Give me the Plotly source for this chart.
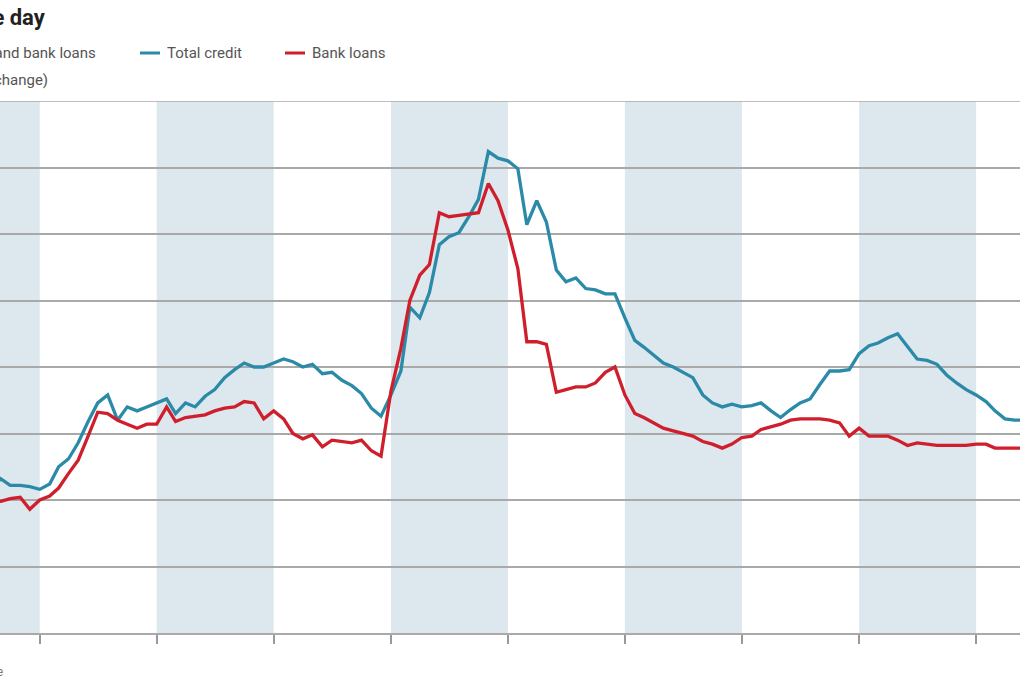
import pandas as pd
import plotly.graph_objects as go

# monthly, Aug 2005 .. Jun 2014 (% change from a year earlier)
months = pd.date_range('2005-08-01', '2014-06-01', freq='MS')

total_credit = [
    10.7, 11.6, 11.1, 11.1, 11.0,
    10.8, 11.2, 12.5, 13.1, 14.3, 15.9, 17.3, 17.9, 16.0, 17.0, 16.7, 17.0,
    17.3, 17.6, 16.5, 17.3, 17.0, 17.8, 18.3, 19.2, 19.8, 20.3, 20.0, 20.0,
    20.3, 20.6, 20.4, 20.0, 20.2, 19.5, 19.6, 19.0, 18.6, 18.0, 16.9, 16.3,
    17.9, 19.7, 24.5, 23.7, 25.6, 29.2, 29.8, 30.1, 31.3, 32.6, 36.2, 35.7,
    35.5, 34.9, 30.7, 32.5, 30.9, 27.3, 26.4, 26.7, 25.9, 25.8, 25.5, 25.5,
    23.7, 22.0, 21.5, 20.9, 20.3, 20.0, 19.6, 19.2, 17.9, 17.3, 17.0, 17.2,
    17.0, 17.1, 17.3, 16.7, 16.2, 16.8, 17.3, 17.6, 18.7, 19.7, 19.7, 19.8,
    21.0, 21.6, 21.8, 22.2, 22.5, 21.5, 20.6, 20.5, 20.2, 19.4, 18.8, 18.3,
    17.9, 17.4, 16.7, 16.1, 16.0, 16.0,
]
bank_loans = [
    9.8, 9.9, 10.1, 10.2, 9.3,
    10.0, 10.3, 10.9, 12.0, 13.0, 14.8, 16.6, 16.5, 16.0, 15.7, 15.4, 15.7,
    15.7, 17.0, 15.9, 16.2, 16.3, 16.4, 16.7, 16.9, 17.0, 17.4, 17.3, 16.1,
    16.7, 16.1, 15.0, 14.6, 14.9, 14.0, 14.5, 14.4, 14.3, 14.5, 13.7, 13.3,
    18.2, 21.4, 25.0, 26.9, 27.7, 31.6, 31.3, 31.4, 31.5, 31.6, 33.8, 32.5,
    30.3, 27.4, 21.9, 21.9, 21.7, 18.1, 18.3, 18.5, 18.5, 18.8, 19.6, 20.0,
    17.9, 16.5, 16.2, 15.8, 15.4, 15.2, 15.0, 14.8, 14.4, 14.2, 13.9, 14.2,
    14.7, 14.8, 15.3, 15.5, 15.7, 16.0, 16.1, 16.1, 16.1, 16.0, 15.8, 14.8,
    15.4, 14.8, 14.8, 14.8, 14.5, 14.1, 14.3, 14.2, 14.1, 14.1, 14.1, 14.1,
    14.2, 14.2, 13.9, 13.9, 13.9, 13.9,
]

shaded_years = [2005, 2007, 2009, 2011, 2013]
tick_years = list(range(2006, 2015))
y_grid = [0, 5, 10, 15, 20, 25, 30, 35, 40]

BLUE = '#2b8aa7'
RED = '#cf1f2c'
BAND = '#dde7ee'
GRID = '#a9a9a9'
FONT = 'Liberation Sans Narrow, Roboto, Arial Narrow, sans-serif'

fig = go.Figure()
fig.add_trace(go.Scatter(x=months, y=total_credit, mode='lines', name='Total credit',
                         line=dict(color=BLUE, width=3.3)))
fig.add_trace(go.Scatter(x=months, y=bank_loans, mode='lines', name='Bank loans',
                         line=dict(color=RED, width=3.3)))

for yr in shaded_years:
    fig.add_shape(type='rect', xref='x', yref='paper', x0=f'{yr}-01-01', x1=f'{yr + 1}-01-01',
                  y0=0, y1=1, fillcolor=BAND, line_width=0, layer='below')

# top rule (40%) sits on the edge of the plot, draw it explicitly
fig.add_shape(type='line', xref='paper', yref='y', x0=0, x1=1, y0=y_grid[-1], y1=y_grid[-1],
              line=dict(color=GRID, width=1.5))

# top/bottom pixel of plot area -> paper coords
TOP, BOT = 101, 633


def py(px):
    return (BOT - px) / (BOT - TOP)


def text(s, x_right, y_px, size, color, bold=False):
    fig.add_annotation(text=f'<b>{s}</b>' if bold else s, xref='paper', yref='paper',
                       x=x_right / 1020, y=py(y_px), xanchor='right', yanchor='middle',
                       showarrow=False, font=dict(family=FONT, size=size, color=color))


text('Seize the day', 48, 18, 22, '#222222', bold=True)
text('Growth of total credit and bank loans', 98, 53, 15, '#555555')
text('(% year-over-year change)', 50, 80, 15, '#555555')
text('Source', 5, 672, 12, '#777777')

# legend
for x0, col, label in [(140, BLUE, 'Total credit'), (285, RED, 'Bank loans')]:
    fig.add_shape(type='line', xref='paper', yref='paper', x0=x0 / 1020, x1=(x0 + 20) / 1020,
                  y0=py(53), y1=py(53), line=dict(color=col, width=3))
    fig.add_annotation(text=label, xref='paper', yref='paper', x=(x0 + 25) / 1020, y=py(53),
                       xanchor='left', yanchor='middle', showarrow=False,
                       font=dict(family=FONT, size=15, color='#555555'))

fig.update_layout(
    width=1020, height=680,
    margin=dict(l=0, r=0, t=TOP, b=680 - BOT),
    paper_bgcolor='white', plot_bgcolor='white',
    showlegend=False,
    font=dict(family=FONT),
    xaxis=dict(type='date', range=['2005-08-30', '2014-05-18'],
               tickmode='array', tickvals=[f'{y}-01-01' for y in tick_years],
               showticklabels=False, ticks='outside', ticklen=9, tickwidth=1.5, tickcolor='#999999',
               showgrid=False, showline=True, linecolor='#aaaaaa', linewidth=2, zeroline=False),
    yaxis=dict(range=[0, 40], tickmode='array', tickvals=y_grid, showticklabels=False,
               showgrid=True, gridcolor=GRID, gridwidth=1.5, zeroline=False, showline=False),
)

fig.write_html('out.html', config={'displayModeBar': False},
               post_script="document.body.style.margin='0px';")
